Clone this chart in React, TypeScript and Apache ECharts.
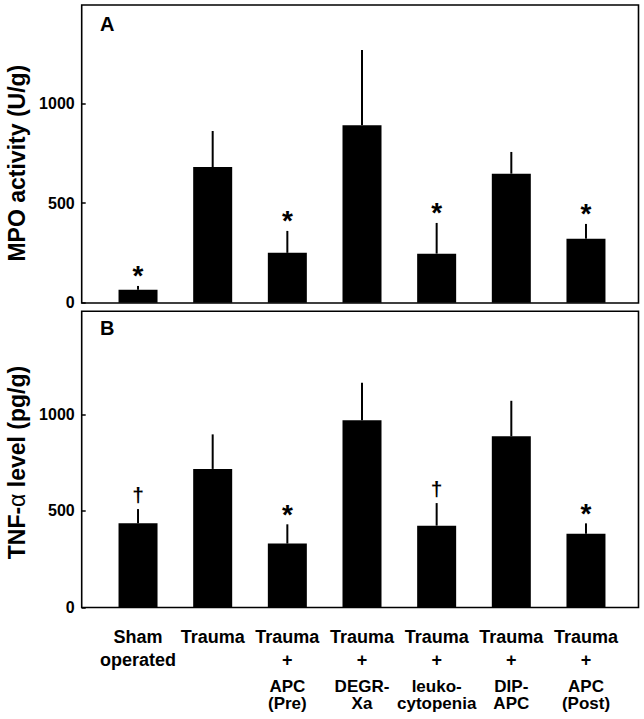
import React, { useEffect, useRef } from "react";
import * as echarts from "echarts";

const categoryLines: string[][] = [
  ["Sham", "operated"],
  ["Trauma"],
  ["Trauma", "+", "APC", "(Pre)"],
  ["Trauma", "+", "DEGR-", "Xa"],
  ["Trauma", "+", "leuko-", "cytopenia"],
  ["Trauma", "+", "DIP-", "APC"],
  ["Trauma", "+", "APC", "(Post)"],
];
const categories = categoryLines.map((l) => l.join(" "));

const mpoMean = [65, 680, 250, 890, 246, 647, 321];
const mpoErrTop = [84, 861, 360, 1267, 400, 756, 395];
const mpoMarks = ["*", "", "*", "", "*", "", "*"];

const tnfMean = [435, 717, 330, 969, 423, 886, 381];
const tnfErrTop = [509, 896, 430, 1164, 540, 1070, 435];
const tnfMarks = ["†", "", "*", "", "†", "", "*"];

const yTicks = [0, 500, 1000];
const yMax = 1500;

const FONT = '"Liberation Sans", Arial, Helvetica, sans-serif';

function labelFormatter(_v: string, idx: number) {
  const lines = categoryLines[idx];
  const styles = ["t", "p", "b", "b"];
  const parts: string[] = [];
  lines.forEach((s, i) => {
    if (i === 2) parts.push("{g| }");
    parts.push(`{${styles[i]}|${s}}`);
  });
  return parts.join("\n");
}

function errSeries(means: number[], tops: number[], marks: string[], ax: number) {
  return {
    type: "custom",
    xAxisIndex: ax,
    yAxisIndex: ax,
    z: 5,
    clip: false,
    data: tops.map((e, i) => [i, means[i], e]),
    encode: { x: 0, y: [1, 2] },
    renderItem: (params: any, api: any) => {
      const i = api.value(0);
      const base = api.coord([i, api.value(1)]);
      const top = api.coord([i, api.value(2)]);
      const m = marks[params.dataIndex];
      const children: any[] = [
        {
          type: "line",
          shape: { x1: base[0], y1: base[1], x2: top[0], y2: top[1] },
          style: { stroke: "#000", lineWidth: 2 },
        },
      ];
      if (m) {
        const star = m === "*";
        children.push({
          type: "text",
          style: {
            text: m,
            x: top[0],
            y: top[1] - (star ? 10 : 15),
            align: "center",
            verticalAlign: "middle",
            fontFamily: FONT,
            fontWeight: "bold",
            fontSize: star ? 28 : 21,
            fill: "#000",
          },
        });
      }
      return { type: "group", children };
    },
  };
}

export default function App() {
  const ref = useRef<HTMLDivElement>(null);
  useEffect(() => {
    if (!ref.current) return;
    const chart = echarts.init(ref.current, null, { renderer: "svg" });
    const gridLeft = 100.7;
    const gridRight = 20.7;
    const richBase = { fontFamily: FONT, fontWeight: "bold", fontSize: 18, color: "#000" };
    const yAxisBase = (name: string, gap: number, pad: number[]) => ({
      type: "value",
      min: 0,
      max: yMax,
      interval: 500,
      offset: 19,
      splitLine: { show: false },
      axisLine: { show: false },
      axisTick: { show: true, inside: true, length: 4, lineStyle: { color: "#000", width: 1.5 }, customValues: yTicks },
      axisLabel: {
        customValues: yTicks,
        formatter: (v: number) => String(v),
        margin: 7,
        color: "#000",
        fontFamily: FONT,
        fontWeight: "bold",
        fontSize: 16,
      },
      name,
      nameLocation: "middle",
      nameGap: gap,
      nameTextStyle: {
        color: "#000",
        fontFamily: FONT,
        fontWeight: "bold",
        fontSize: 23,
        verticalAlign: "middle",
        padding: pad,
        rich: { a: { fontFamily: FONT, fontWeight: "normal", fontSize: 23, color: "#000" } },
      },
    });
    chart.setOption({
      animation: false,
      backgroundColor: "#fff",
      grid: [
        { left: gridLeft, right: gridRight, top: 3.6, height: 299.1, containLabel: false, outerBoundsMode: "none" },
        { left: gridLeft, right: gridRight, top: 317.8, height: 289.5, containLabel: false, outerBoundsMode: "none" },
      ],
      xAxis: [
        {
          type: "category",
          gridIndex: 0,
          data: categories,
          axisLine: { show: false },
          axisTick: { show: false },
          axisLabel: { show: false },
        },
        {
          type: "category",
          gridIndex: 1,
          data: categories,
          axisLine: { show: false },
          axisTick: { show: false },
          axisLabel: {
            interval: 0,
            margin: 20,
            formatter: labelFormatter,
            color: "#000",
            fontFamily: FONT,
            fontWeight: "bold",
            fontSize: 18,
            align: "center",
            verticalAlign: "top",
            rich: {
              t: { ...richBase, lineHeight: 20 },
              p: { ...richBase, lineHeight: 26 },
              g: { ...richBase, fontSize: 4, lineHeight: 5 },
              b: { ...richBase, fontSize: 17, lineHeight: 17 },
            },
          },
        },
      ],
      yAxis: [
        { ...yAxisBase("MPO activity (U/g)", 65, [0, 20, 0, 0]), gridIndex: 0 },
        { ...yAxisBase("TNF-{a|α} level (pg/g)", 65, [0, 0, 0, 0]), gridIndex: 1 },
      ],
      series: [
        {
          type: "bar",
          xAxisIndex: 0,
          yAxisIndex: 0,
          data: mpoMean,
          barWidth: 39,
          itemStyle: { color: "#000" },
        },
        errSeries(mpoMean, mpoErrTop, mpoMarks, 0),
        {
          type: "bar",
          xAxisIndex: 1,
          yAxisIndex: 1,
          data: tnfMean,
          barWidth: 39,
          itemStyle: { color: "#000" },
        },
        errSeries(tnfMean, tnfErrTop, tnfMarks, 1),
      ],
      graphic: [
        {
          type: "rect",
          shape: { x: 81.7, y: 5, width: 556.8, height: 298 },
          style: { fill: "none", stroke: "#000", lineWidth: 1.6 },
          z: 10,
        },
        {
          type: "rect",
          shape: { x: 81.7, y: 311.3, width: 556.8, height: 296.2 },
          style: { fill: "none", stroke: "#000", lineWidth: 1.6 },
          z: 10,
        },
        {
          type: "text",
          x: 100,
          y: 24,
          style: { text: "A", fontFamily: FONT, fontWeight: "bold", fontSize: 20, fill: "#000", verticalAlign: "middle" },
        },
        {
          type: "text",
          x: 100,
          y: 328,
          style: { text: "B", fontFamily: FONT, fontWeight: "bold", fontSize: 20, fill: "#000", verticalAlign: "middle" },
        },
      ],
    });
    return () => chart.dispose();
  }, []);
  return (
    <div
      ref={ref}
      style={{ position: "fixed", left: 0, top: 0, width: 644, height: 719, background: "#fff" }}
    />
  );
}
